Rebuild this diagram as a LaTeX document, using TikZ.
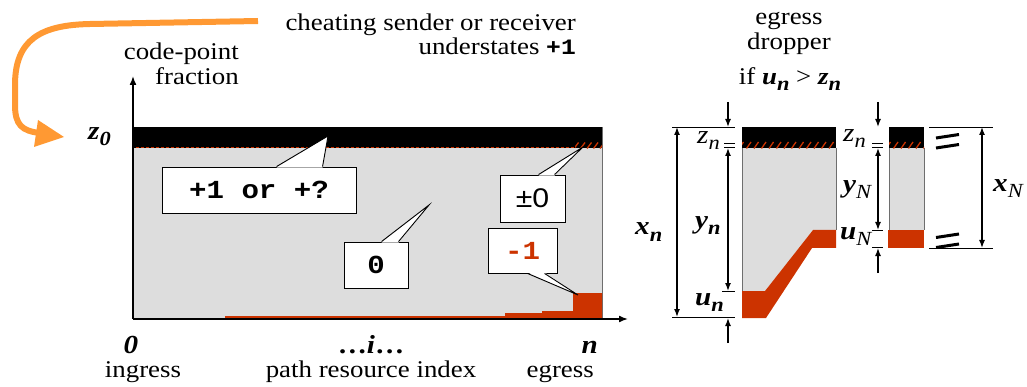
\documentclass[tikz,border=0pt]{standalone}
\usepackage{fontspec}
\setmainfont{Liberation Serif}[FakeStretch=1.12,
  UprightFont={Liberation Serif},
  BoldFont={Liberation Serif Bold},
  ItalicFont={Liberation Serif Italic},
  BoldItalicFont={Liberation Serif Bold Italic}]
\newfontfamily\cpmono{Liberation Mono}[FakeStretch=1.12]
\newfontfamily\cpsans{Liberation Sans}[FakeStretch=1.12]
\usetikzlibrary{arrows.meta,calc}

\definecolor{cpred}{HTML}{CC3300}
\definecolor{cpdark}{HTML}{7A2A10}
\definecolor{cporange}{HTML}{FF9933}
\definecolor{cpgray}{HTML}{DDDDDD}
\definecolor{cpedge}{HTML}{6E6E6E}

\newcommand\fsz[1]{\fontsize{#1}{#1}\selectfont}
\newcommand\lowidx[1]{\raisebox{-6pt}{\fsz{20}#1}}
\newcommand\bvar[2]{\textbf{\textit{#1}}\lowidx{\textbf{\textit{#2}}}}

\tikzset{
  txt/.style={inner sep=0pt, font=\fsz{24}},
  var/.style={inner sep=0pt, font=\fsz{26}},
  callbox/.style={draw=black, fill=white, line width=0.9pt, inner sep=0pt,
    font=\cpmono\bfseries\fsz{26}},
  tailfill/.style={fill=white},
  taildraw/.style={draw=black, line width=0.9pt, line join=miter},
  axis/.style={line width=1.6pt, -{Latex[length=9pt,width=7pt]}},
  dimtip/.style={line width=1.4pt, -{Latex[length=8pt,width=6pt]}},
  dimboth/.style={line width=1.4pt, {Latex[length=8pt,width=6pt]}-{Latex[length=8pt,width=6pt]}},
  guide/.style={line width=0.8pt, black},
  tick/.style={line width=0.8pt, black},
  brk/.style={line width=3pt, black},
  hatch/.style={cpred, line width=1.3pt},
}

\begin{document}
\begin{tikzpicture}[x=1pt, y=-1pt]
\useasboundingbox (0,0) rectangle (1027,387);

% ---------------- main chart: code-point fraction along the path
\coordinate (origin) at (133,319);
\coordinate (ytip) at (133,76);
\coordinate (xtip) at (628,319);

\fill[cpgray] (133,148) rectangle (602,319);
\fill[black] (133,127) rectangle (602,148);
\draw[cpedge, line width=1pt] (602,127) -- (602,319);

% red (dropped) fraction growing towards the egress
\fill[cpred] (225,316) -- (505,316) -- (505,313) -- (542,313) -- (542,311)
  -- (573,311) -- (573,293) -- (602,293) -- (602,319) -- (225,319) -- cycle;
\draw[cpdark, line width=1.5pt] (162,318.3) -- (225,318.3);

% dashed boundary under the black band, hatched near the egress
\draw[cpred, line width=0.8pt, dash pattern=on 2.5pt off 2.5pt] (136,147.6) -- (576,147.6);
\begin{scope}
  \clip (575,142.5) rectangle (602,148.5);
  \foreach \x in {574,580.5,...,602} \draw[hatch] (\x,148.5) -- (\x+4.5,142.5);
\end{scope}

\draw[axis] (origin) -- (ytip);
\draw[axis] (origin) -- (xtip);

% orange curved pointer to z0
\coordinate (ostart) at (258,21);
\coordinate (oend) at (40,133);
\draw[cporange, line width=6pt] (ostart) -- (90,24)
  .. controls (40,25) and (15,40) .. (15,85) -- (15,105)
  .. controls (15,125) and (22,131) .. (oend);
\fill[cporange] (38,120) -- (64,137) -- (34,147) -- cycle;

% ---------------- texts around the main chart
\node[txt, anchor=base east] (cheat1) at (576,31) {cheating sender or receiver};
\node[txt, anchor=base east] (cheat2) at (576,55) {understates {\cpmono\bfseries\fsz{22}+1}};
\node[txt, anchor=base east] (cp1) at (239,60) {code-point};
\node[txt, anchor=base east] (cp2) at (239,85) {fraction};
\node[var, anchor=base west] (z0) at (88,140) {\bvar{z}{0}};

\node[var, anchor=base] (l0) at (131,353) {\textbf{\textit{0}}};
\node[txt, anchor=base] (ing) at (143,377) {ingress};
\node[var, anchor=base] (li) at (371,353) {\textbf{…\textit{i}…}};
\node[txt, anchor=base] (pri) at (371,377) {path resource index};
\node[var, anchor=base east] (ln) at (598,353) {\textbf{\textit{n}}};
\node[txt, anchor=base east] (eg) at (594,377) {egress};

% ---------------- callouts
\node[callbox, minimum width=194pt, minimum height=46pt] (plus1) at (259,190) {+1 or +?};
\coordinate (plus1tip) at (328,136);
\fill[tailfill] ($(plus1.north west)+(115,1)$) -- (plus1tip) -- ($(plus1.north west)+(161,1)$) -- cycle;
\draw[taildraw] ($(plus1.north west)+(115,0)$) -- (plus1tip) -- ($(plus1.north west)+(161,0)$);

\node[callbox, minimum width=65pt, minimum height=47pt, font=\cpsans\fsz{27}] (pm0) at (532.5,198.5) {±0};
\coordinate (pm0tip) at (583,147);
\fill[tailfill] ($(pm0.north west)+(39,1)$) -- (pm0tip) -- ($(pm0.north west)+(55,1)$) -- cycle;
\draw[taildraw] ($(pm0.north west)+(39,0)$) -- (pm0tip) -- ($(pm0.north west)+(55,0)$);

\node[callbox, minimum width=64pt, minimum height=46pt] (zero) at (376,265) {0};
\coordinate (zerotip) at (429,205);
\fill[tailfill] ($(zero.north west)+(38,1)$) -- (zerotip) -- ($(zero.north west)+(55,1)$) -- cycle;
\draw[taildraw] ($(zero.north west)+(38,0)$) -- (zerotip) -- ($(zero.north west)+(55,0)$);

\node[callbox, minimum width=69pt, minimum height=45pt, text=cpred] (minus1) at (522.5,250.5) {-1};
\coordinate (minus1tip) at (578,295);
\fill[tailfill] ($(minus1.south west)+(40,-1)$) -- (minus1tip) -- ($(minus1.south west)+(57,-1)$) -- cycle;
\draw[taildraw] ($(minus1.south west)+(40,0)$) -- (minus1tip) -- ($(minus1.south west)+(57,0)$);

% ---------------- egress dropper
\node[txt, anchor=base] (dr1) at (789,25) {egress};
\node[txt, anchor=base] (dr2) at (789,50) {dropper};
\node[txt, anchor=base] (dr3) at (790,85) {if \bvar{u}{n} > \bvar{z}{n}};

\fill[cpgray] (742,148) -- (836,148) -- (836,230) -- (813,230) -- (765,291) -- (742,291) -- cycle;
\draw[cpedge, line width=1pt] (742,148) -- (742,291);
\draw[cpedge, line width=1pt] (836,148) -- (836,230);
\fill[cpred] (742,291) -- (765,291) -- (813,230) -- (836,230) -- (836,248)
  -- (812,248) -- (766,318) -- (742,318) -- cycle;
\fill[black] (742,127) rectangle (836,148);
\begin{scope}
  \clip (742,142) rectangle (836,148.5);
  \foreach \x in {739,746.5,...,836} \draw[hatch] (\x,148.5) -- (\x+4.5,142);
\end{scope}

% dimensions of the dropper
\draw[guide] (672,127) -- (735,127);
\draw[guide] (672,317) -- (735,317);
\draw[dimboth] (677,127) -- (677,317);
\draw[dimtip] (728,102) -- (728,127);
\draw[tick] (724,143) -- (735,143);
\draw[tick] (724,147) -- (735,147);
\draw[dimboth] (728,148) -- (728,291);
\draw[tick] (722,291) -- (735,291);
\draw[dimtip] (728,343) -- (728,318);

\node[var, anchor=base west] (xn) at (635,235) {\bvar{x}{n}};
\node[var, anchor=base west] (znl) at (697,144) {\textit{z}\lowidx{\textit{n}}};
\node[var, anchor=base west] (yn) at (695,229) {\bvar{y}{n}};
\node[var, anchor=base west] (un) at (695,305) {\bvar{u}{n}};

% ---------------- a later resource N
\fill[cpgray] (889,148) rectangle (924,230);
\draw[cpedge, line width=1pt] (889,148) -- (889,230);
\draw[cpedge, line width=1pt] (924,148) -- (924,230);
\fill[cpred] (888,230) rectangle (924,248);
\fill[black] (889,127) rectangle (924,148);
\begin{scope}
  \clip (889,142) rectangle (924,148.5);
  \foreach \x in {886,893.5,...,924} \draw[hatch] (\x,148.5) -- (\x+4.5,142);
\end{scope}

\draw[dimtip] (878,102) -- (878,127);
\draw[tick] (872,143) -- (883,143);
\draw[tick] (872,147) -- (883,147);
\draw[dimboth] (878,148) -- (878,230);
\draw[tick] (872,230) -- (883,230);
\draw[tick] (872,247) -- (883,247);
\draw[dimtip] (878,273) -- (878,248);

\draw[guide] (929,127) -- (993,127);
\draw[guide] (929,248) -- (993,248);
\draw[dimboth] (982,127) -- (982,248);
\draw[brk] (936,138) -- (959,134.5);
\draw[brk] (936,148) -- (959,144.5);
\draw[brk] (936,237.5) -- (959,234);
\draw[brk] (936,247.5) -- (959,244);

\node[var, anchor=base west] (znr) at (843,142) {\textit{z}\lowidx{\textit{n}}};
\node[var, anchor=base west] (yN) at (843,193) {\textbf{\textit{y}}\lowidx{\textit{N}}};
\node[var, anchor=base west] (uN) at (840,240) {\textbf{\textit{u}}\lowidx{\textit{N}}};
\node[var, anchor=base west] (xN) at (993,192) {\textbf{\textit{x}}\lowidx{\textit{N}}};
\end{tikzpicture}
\end{document}
